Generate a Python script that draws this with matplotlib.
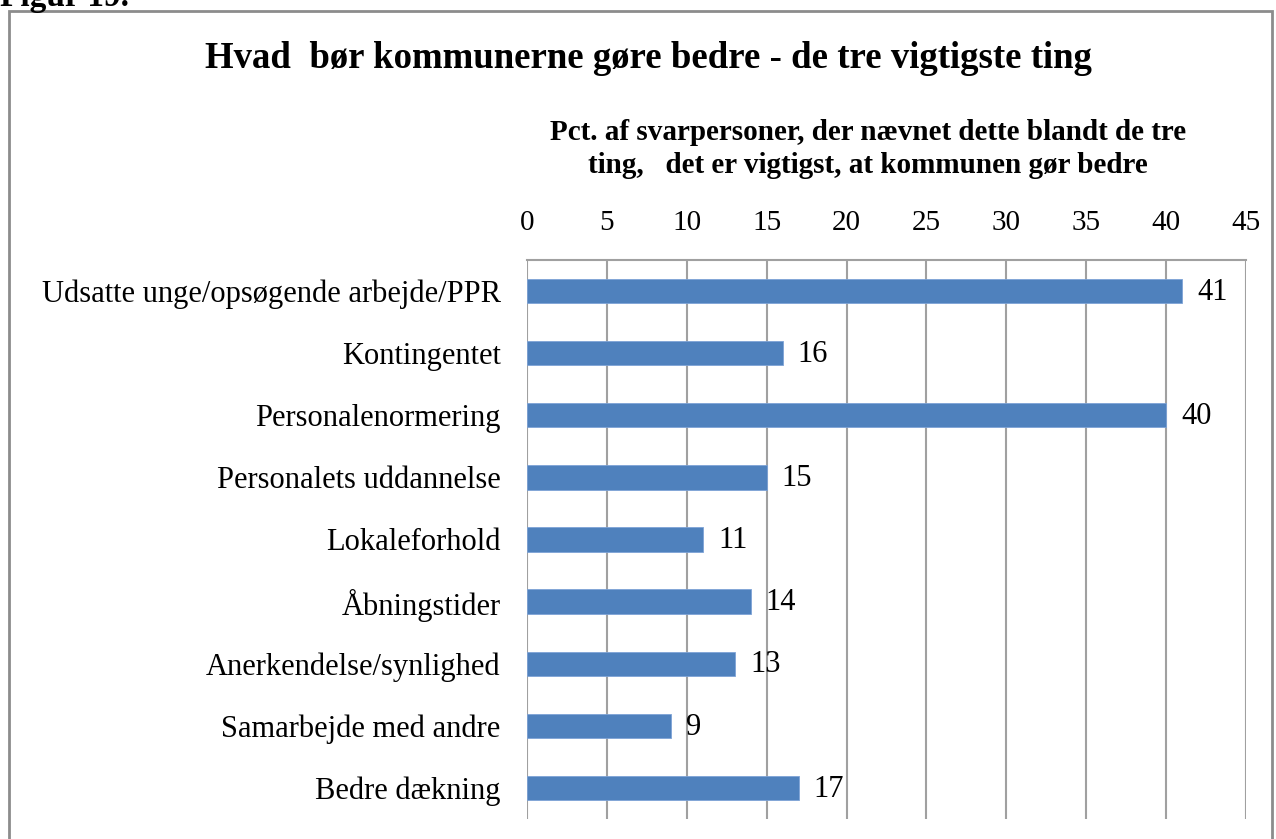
import matplotlib.pyplot as plt
from matplotlib.patches import Rectangle

plt.rcParams["font.family"] = ["Liberation Serif", "DejaVu Serif"]

categories = [
    "Udsatte unge/opsøgende arbejde/PPR",
    "Kontingentet",
    "Personalenormering",
    "Personalets uddannelse",
    "Lokaleforhold",
    "Åbningstider",
    "Anerkendelse/synlighed",
    "Samarbejde med andre",
    "Bedre dækning",
]
values = [41, 16, 40, 15, 11, 14, 13, 9, 17]
xticks = [0, 5, 10, 15, 20, 25, 30, 35, 40, 45]

W, H = 1276, 839
fig = plt.figure(figsize=(W / 100, H / 100), dpi=100)

# plot area in pixel coords
left, right, top, bottom = 527, 1246, 260, 819
ax = fig.add_axes([left / W, 1 - bottom / H, (right - left) / W, (bottom - top) / H])

ypos = list(range(len(categories)))
ax.barh(ypos, values, height=0.39, color="#4F81BD", edgecolor="#7EA3D6",
        linewidth=0.6, zorder=3)
for y, v in zip(ypos, values):
    ax.text(v + 0.95, y + 0.02, f"{v}", va="center", ha="left", fontsize=22, zorder=4)

ax.set_xlim(0, 45)
ax.set_ylim(len(categories) - 0.5, -0.5)
ax.set_xticks(xticks)
ax.set_yticks(ypos)
ax.set_yticklabels(categories, fontsize=22)
ax.xaxis.tick_top()
ax.tick_params(axis="x", length=0, pad=17, labelsize=21)
ax.tick_params(axis="y", length=0, pad=19)
ax.grid(axis="x", color="#A0A0A0", linewidth=1.5, zorder=0)
for s in ["left", "right", "bottom"]:
    ax.spines[s].set_visible(False)
ax.spines["top"].set_color("#A0A0A0")
ax.spines["top"].set_linewidth(1.5)

# outer chart border
fig.patches.append(Rectangle((9 / W, -0.05), (1272 - 9) / W, 1 - 11 / H + 0.05,
                             transform=fig.transFigure, fill=False,
                             edgecolor="#8C8C8C", linewidth=2))

fig.text(0 / W, 1 - 6 / H, "Figur 19.", fontsize=24, fontweight="bold",
         ha="left", va="baseline")
fig.text(648 / W, 1 - 59 / H, "Hvad  bør kommunerne gøre bedre - de tre vigtigste ting",
         fontsize=26.5, fontweight="bold", ha="center", va="center")
fig.text(868 / W, 1 - 149 / H,
         "Pct. af svarpersoner, der nævnet dette blandt de tre\nting,   det er vigtigst, at kommunen gør bedre",
         fontsize=21, fontweight="bold", ha="center", va="center", linespacing=1.25)

fig.savefig("out.png", dpi=100)
